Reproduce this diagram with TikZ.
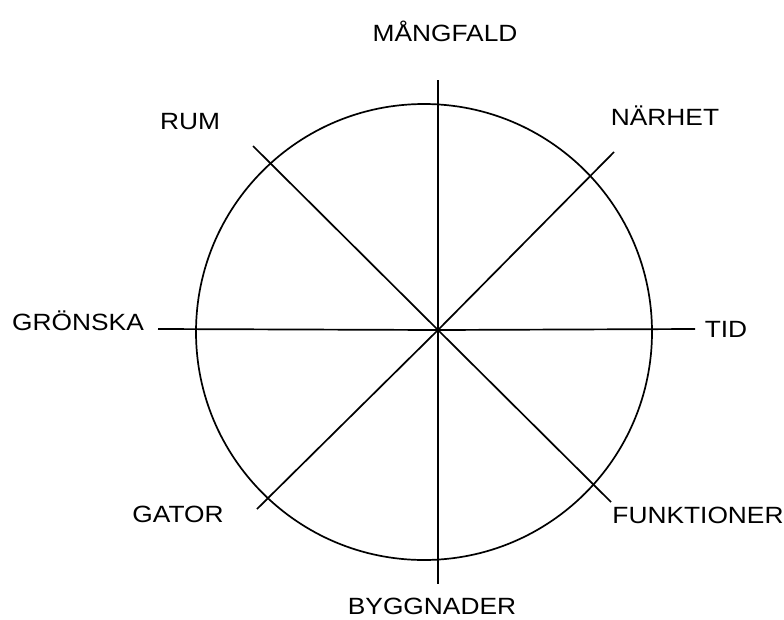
\documentclass[tikz,border=0pt]{standalone}
\usepackage{fontspec}
\setmainfont{Liberation Sans}[FakeStretch=1.12]
\tikzset{
  raggio/.style={line width=1.7pt},
  etichetta/.style={anchor=base, inner sep=0pt, font=\fontsize{23.5}{28}\selectfont}
}
\begin{document}
\begin{tikzpicture}[x=1pt, y=-1pt]
\useasboundingbox (0,0) rectangle (784,619);
% cerchio
\draw[raggio] (424,332) circle (228pt);
% centro e estremi
\coordinate (c) at (438,330);
\coordinate (n) at (438,80);
\coordinate (s) at (438,584);
\coordinate (o) at (158,329);
\coordinate (e) at (695,329);
\coordinate (no) at (253,146);
\coordinate (ne) at (614,152);
\coordinate (so) at (257,509);
\coordinate (se) at (611,502);
% raggi
\draw[raggio] (n) -- (c) -- (s);
\draw[raggio] (o) -- (c) -- (e);
\draw[raggio] (no) -- (c) -- (se);
\draw[raggio] (ne) -- (c) -- (so);
% etichette
\node[etichetta] (mangfald) at (445,41) {MÅNGFALD};
\node[etichetta] (narhet) at (665,125) {NÄRHET};
\node[etichetta] (tid) at (726,337) {TID};
\node[etichetta] (funktioner) at (698,523) {FUNKTIONER};
\node[etichetta] (byggnader) at (432,614) {BYGGNADER};
\node[etichetta] (gator) at (178,522) {GATOR};
\node[etichetta] (gronska) at (78,330) {GRÖNSKA};
\node[etichetta] (rum) at (190,129) {RUM};
\end{tikzpicture}
\end{document}
